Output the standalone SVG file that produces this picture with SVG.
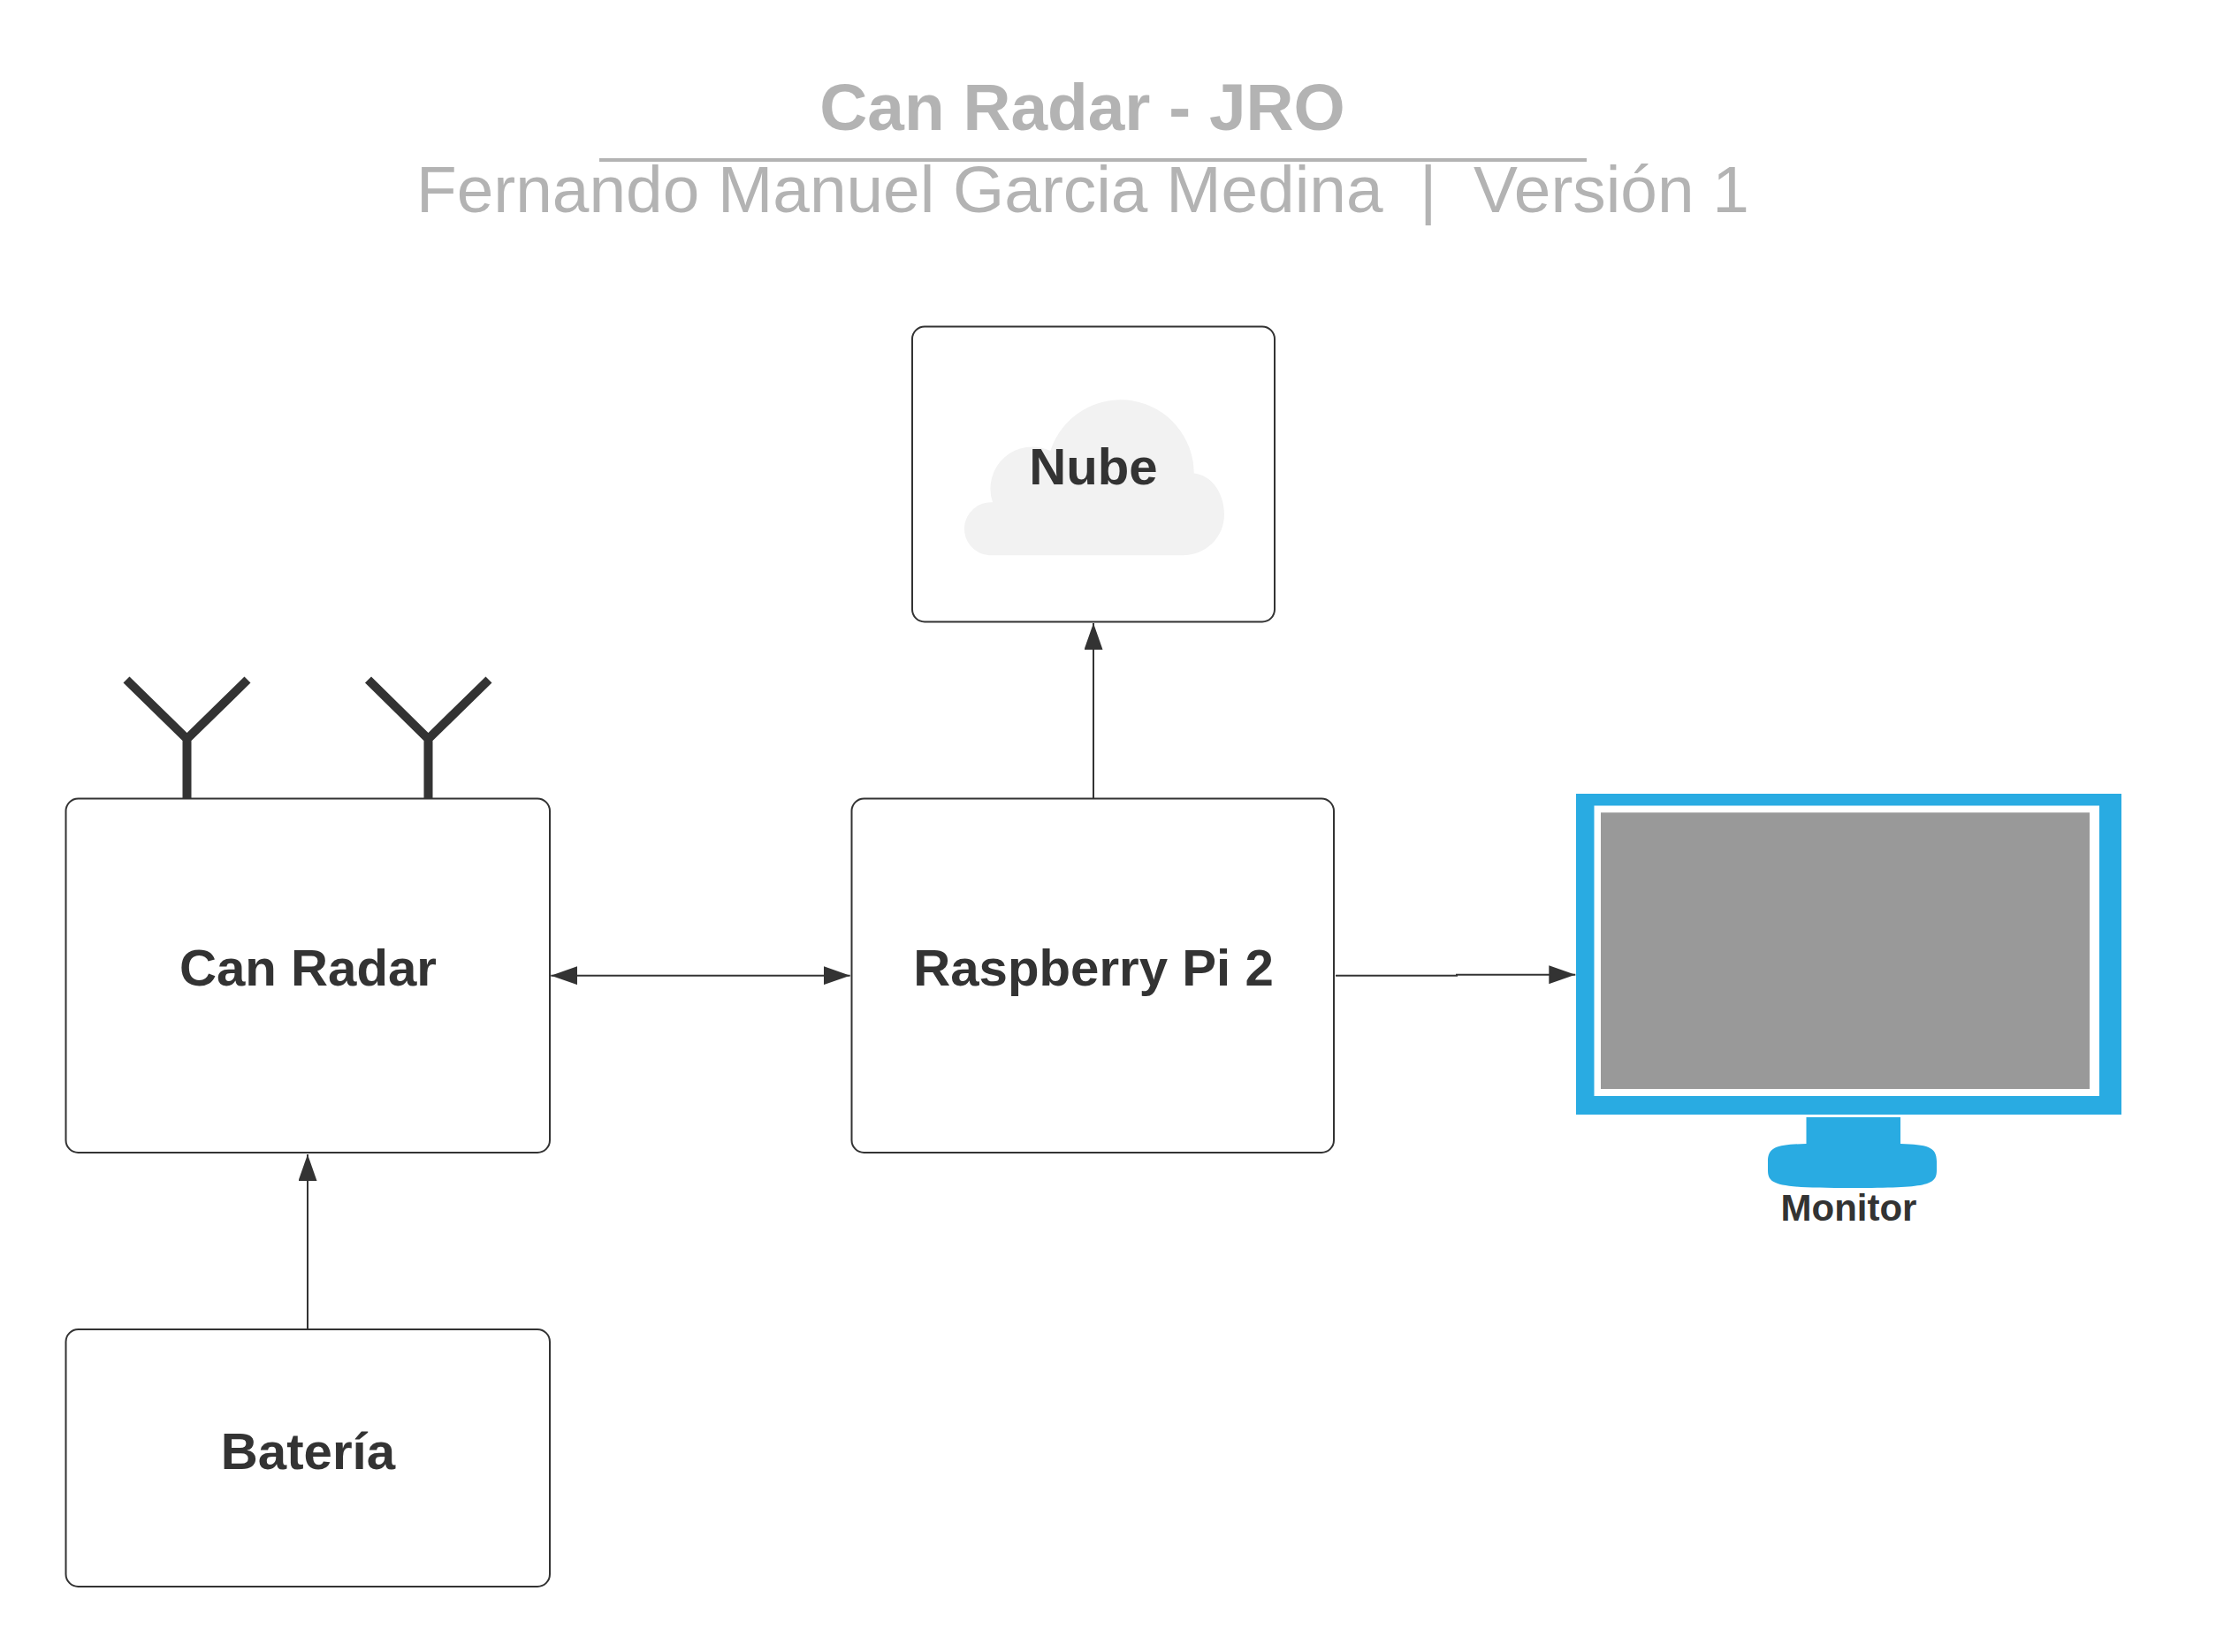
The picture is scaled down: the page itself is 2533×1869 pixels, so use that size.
<svg xmlns="http://www.w3.org/2000/svg" width="2533" height="1869" viewBox="0 0 2533 1869">
<style>
text{font-family:"Liberation Sans",Arial,sans-serif;text-anchor:middle;white-space:pre}
.lbl{font-size:58.200px;font-weight:700;fill:#333}
.box{fill:#fff;stroke:#333;stroke-width:2}
.conn{fill:none;stroke:#333;stroke-width:2}
.ant{fill:none;stroke:#333;stroke-width:10;stroke-linejoin:bevel}
.blue{fill:#29abe2}
</style>
<defs>
<marker id="arrow" markerUnits="userSpaceOnUse" markerWidth="30" markerHeight="21" refX="30" refY="10.500" orient="auto-start-reverse"><path d="M0 0L30 10.500L0 21Z" fill="#333"/></marker>
</defs>
<rect width="2533" height="1869" fill="#fff"/>
<g id="title">
<text x="1224.500" y="147" font-size="74.800" font-weight="700" fill="#b3b3b3">Can Radar - JRO</text>
<rect x="678" y="179" width="1117" height="4" fill="#b3b3b3"/>
<text x="1225" y="240" font-size="74.800" fill="#b3b3b3">Fernando Manuel Garcia Medina  |  Versión 1</text>
</g>
<g id="connectors">
<path class="conn" d="M1237 903V705" marker-end="url(#arrow)"/>
<path class="conn" d="M348 1504V1306" marker-end="url(#arrow)"/>
<path class="conn" d="M623.300 1103.700H961.700" marker-start="url(#arrow)" marker-end="url(#arrow)"/>
<path class="conn" d="M1511 1103.700H1648V1102.700H1782.300" marker-end="url(#arrow)"/>
</g>
<g id="nube">
<rect class="box" x="1032" y="369.500" width="410" height="334" rx="14"/>
<path fill="#f2f2f2" d="M1119 628.300A30 30 0 0 1 1123 568.300A47.500 47.500 0 0 1 1188.300 510A83.200 83.200 0 0 1 1350.700 535.500C1370 537 1385 557 1385 582C1385 608 1364 628.300 1338 628.300Z"/>
<text class="lbl" x="1237" y="548">Nube</text>
</g>
<g id="can-radar">
<rect class="box" x="74.500" y="903.500" width="547.500" height="400.500" rx="14"/>
<text class="lbl" x="348.500" y="1115">Can Radar</text>
</g>
<g id="antenna-1">
<path class="ant" d="M143 769L211.500 836L280 769M211.500 836V903"/>
</g>
<g id="antenna-2">
<path class="ant" d="M416.500 769L484.500 836L553 769M484.500 836V903"/>
</g>
<g id="raspberry">
<rect class="box" x="963.500" y="903.500" width="545.500" height="400.500" rx="14"/>
<text class="lbl" x="1237" y="1115">Raspberry Pi 2</text>
</g>
<g id="bateria">
<rect class="box" x="74.500" y="1504" width="547.500" height="291" rx="14"/>
<text class="lbl" x="348.500" y="1662">Batería</text>
</g>
<g id="monitor">
<rect class="blue" x="1783" y="898" width="617" height="363"/>
<rect x="1803.500" y="911.500" width="571.500" height="328.500" fill="#fff"/>
<rect x="1811" y="919.300" width="553" height="312.700" fill="#999"/>
<path class="blue" d="M2043.500 1264H2150V1294C2180 1295 2191 1297 2191 1314V1324C2191 1341 2180 1344 2096 1344C2011 1344 2000 1341 2000 1324V1314C2000 1297 2012 1295 2043.500 1294Z"/>
<text x="2091.500" y="1380.500" font-size="42" font-weight="700" fill="#333">Monitor</text>
</g>
</svg>
